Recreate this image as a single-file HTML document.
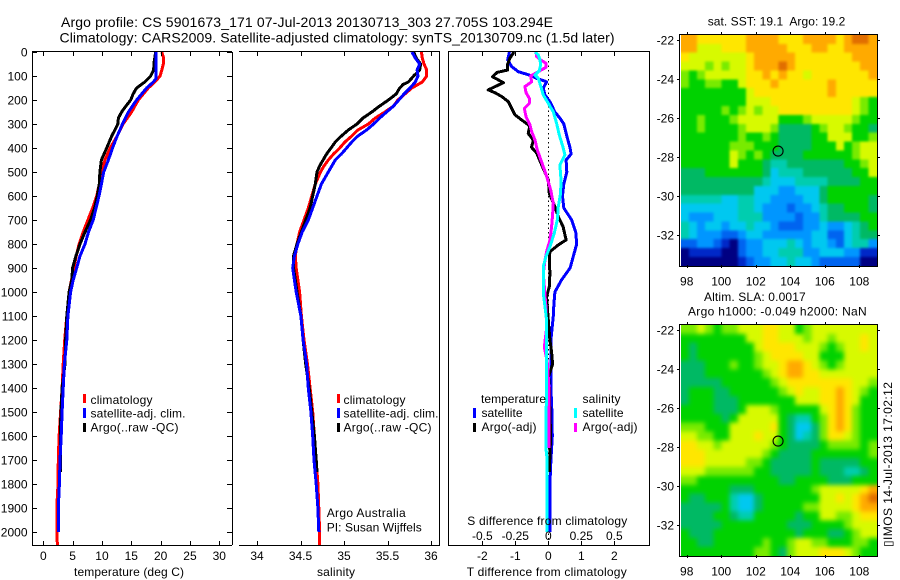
<!DOCTYPE html>
<html>
<head>
<meta charset="utf-8">
<title>Argo profile</title>
<style>
html,body{margin:0;padding:0;background:#fff;width:900px;height:580px;overflow:hidden}
svg{display:block}
text{font-family:"Liberation Sans",sans-serif;font-size:12px;fill:#000}
.title{font-size:14px}
.ln{stroke:#000;stroke-width:1;shape-rendering:crispEdges;fill:none}
</style>
</head>
<body>
<svg id="chart" xmlns="http://www.w3.org/2000/svg" width="900" height="580" viewBox="0 0 900 580">
<defs>
<clipPath id="sst-clip"><rect x="681" y="35" width="196" height="231"/></clipPath>
<clipPath id="sla-clip"><rect x="681" y="325" width="196" height="231"/></clipPath>
<filter id="blur-sst" x="-10%" y="-10%" width="120%" height="120%" color-interpolation-filters="sRGB"><feGaussianBlur stdDeviation="1.3"/></filter>
<filter id="blur-sla" x="-10%" y="-10%" width="120%" height="120%" color-interpolation-filters="sRGB"><feGaussianBlur stdDeviation="2.4"/></filter>
</defs>
<text class="title" x="61" y="27" textLength="492">Argo profile: CS 5901673_171 07-Jul-2013 20130713_303 27.705S 103.294E</text>
<text class="title" x="59.5" y="42.5" textLength="555">Climatology: CARS2009. Satellite-adjusted climatology: synTS_20130709.nc (1.5d later)</text>
<g id="maps">
<g clip-path="url(#sst-clip)"><g id="sst-cells" filter="url(#blur-sst)"></g></g>
<g clip-path="url(#sla-clip)"><g id="sla-cells" filter="url(#blur-sla)"></g></g>
</g>
<g id="profiles"></g>
<g id="axes"></g>
<line class="ln" x1="232.5" y1="52" x2="232.5" y2="545"/>
<line class="ln" x1="32.5" y1="52" x2="32.5" y2="545"/>
<line class="ln" x1="32" y1="51.5" x2="232" y2="51.5"/>
<line class="ln" x1="32" y1="545.5" x2="232" y2="545.5"/>
<line class="ln" x1="239" y1="51.5" x2="440" y2="51.5"/>
<line class="ln" x1="239" y1="545.5" x2="440" y2="545.5"/>
<line class="ln" x1="439.5" y1="52" x2="439.5" y2="545"/>
<rect class="ln" x="448.5" y="51.5" width="201" height="494"/>
<rect class="ln" x="679.5" y="34.5" width="198" height="232"/>
<rect class="ln" x="679.5" y="324.5" width="198" height="232"/>

<g>
<rect x="83" y="394" width="3" height="9" fill="#f00"/>
<rect x="83" y="408" width="3" height="10" fill="#00f"/>
<rect x="83" y="423" width="3" height="9" fill="#000"/>
<text x="90.5" y="404" textLength="62">climatology</text>
<text x="90.5" y="417.5" textLength="95">satellite-adj. clim.</text>
<text x="90.5" y="431.5" textLength="88">Argo(..raw -QC)</text>
</g>
<g>
<rect x="337" y="394" width="3" height="9" fill="#f00"/>
<rect x="337" y="408" width="3" height="10" fill="#00f"/>
<rect x="337" y="423" width="3" height="9" fill="#000"/>
<text x="343.5" y="404" textLength="62">climatology</text>
<text x="343.5" y="417.5" textLength="95">satellite-adj. clim.</text>
<text x="343.5" y="431.5" textLength="88">Argo(..raw -QC)</text>
</g>
<g>
<text x="481" y="403" textLength="65">temperature</text>
<text x="582.5" y="403" textLength="38">salinity</text>
<rect x="473" y="408" width="3" height="10" fill="#00f"/>
<rect x="473" y="423" width="3" height="9" fill="#000"/>
<rect x="574" y="408" width="3" height="10" fill="#0ff"/>
<rect x="574" y="423" width="3" height="9" fill="#f0f"/>
<text x="481.5" y="417" textLength="41">satellite</text>
<text x="481.5" y="431" textLength="55">Argo(-adj)</text>
<text x="582.5" y="417" textLength="41">satellite</text>
<text x="582.5" y="431" textLength="55">Argo(-adj)</text>
</g>
<text x="326.7" y="517" textLength="79">Argo Australia</text>
<text x="326.7" y="531.5" textLength="95">PI: Susan Wijffels</text>
<text x="467.3" y="525" textLength="160">S difference from climatology</text>
<text x="74" y="576" textLength="110">temperature (deg C)</text>
<text x="317" y="576" textLength="38">salinity</text>
<text x="466.7" y="576" textLength="160">T difference from climatology</text>
<text x="707.7" y="25.5" textLength="137.6" xml:space="preserve" style="white-space:pre">sat. SST: 19.1  Argo: 19.2</text>
<text x="704" y="301" textLength="101.7">Altim. SLA: 0.0017</text>
<text x="688" y="315.7" textLength="178.7">Argo h1000: -0.049 h2000: NaN</text>
<text transform="translate(892,547) rotate(-90)" textLength="165" style='font-family:"Liberation Sans","DejaVu Sans",sans-serif'>▯IMOS 14-Jul-2013 17:02:12</text>
</svg>
<script>
// ---- axis tick values ----
const depthTicks = [0,100,200,300,400,500,600,700,800,900,1000,1100,1200,1300,1400,1500,1600,1700,1800,1900,2000];
const tempTicks = [0,5,10,15,20,25,30];
const salTicks = [34,34.5,35,35.5,36];
const tDiffTicks = [-2,-1,0,1,2];
const sDiffTicks = [-0.5,-0.25,0,0.25,0.5];
const lonTicks = [98,100,102,104,106,108];
const latTicks = [-22,-24,-26,-28,-30,-32];

// ---- temperature panel ----
const tempClimDepth = [0,25,50,75,100,125,150,200,250,300,350,400,450,500,550,600,650,700,750,800,850,900,950,1000,1100,1200,1300,1400,1500,1600,1700,1800,1900,2000,2054];
const tempClimValues = [20.2,20.5,20.45,20.2,19.9,19.0,17.9,16.2,15.05,13.6,12.6,11.4,10.5,9.9,9.55,9.1,8.4,7.6,6.8,6.1,5.6,5.2,4.8,4.4,4.0,3.65,3.4,3.2,2.95,2.7,2.55,2.5,2.3,2.3,2.4];
const tempSatDepth = [0,100,110,125,150,200,250,300,350,400,450,500,550,600,650,700,750,800,850,900,950,1000,1100,1200,1300,1400,1500,1600,1700,1800,1900,2000];
const tempSatValues = [19.25,19.25,19.25,18.75,17.6,15.9,14.5,13.5,12.6,11.8,11.1,10.3,9.9,9.5,9.0,8.5,7.7,7.1,6.25,5.7,5.1,4.65,4.2,4.0,3.6,3.4,3.2,3.05,2.85,2.75,2.55,2.55];
const tempArgoDepth = [0,40,75,100,125,150,175,200,225,250,275,300,325,350,400,450,500,550,600,650,700,750,800,850,900,950,1000,1100,1200,1300,1400,1500,1600,1750];
const tempArgoValues = [19.15,18.9,18.8,18.3,17.3,15.9,15.3,14.9,14.1,13.35,12.8,12.7,12.2,11.65,10.8,9.9,9.65,9.55,9.2,8.75,8.05,7.1,6.25,5.55,5.0,4.85,4.4,4.0,3.8,3.7,3.2,3.0,2.9,2.9];

// ---- salinity panel ----
const salClimDepth = [0,25,50,75,100,125,150,175,200,225,250,275,300,325,350,375,400,425,450,475,500,550,600,650,700,750,800,850,900,950,1000,1100,1200,1300,1400,1500,1600,1700,1800,1900,2000,2054];
const salClimValues = [35.89,35.9,35.92,35.95,35.95,35.9,35.78,35.7,35.62,35.57,35.47,35.36,35.28,35.16,35.09,35.01,34.95,34.88,34.82,34.77,34.73,34.67,34.63,34.59,34.54,34.49,34.46,34.44,34.45,34.47,34.49,34.51,34.54,34.58,34.61,34.64,34.66,34.68,34.7,34.71,34.72,34.72];
const salSatDepth = [0,25,50,75,100,125,150,175,200,225,250,275,300,325,350,375,400,425,450,475,500,550,600,650,700,750,800,850,900,950,1000,1100,1200,1300,1400,1500,1600,1700,1800,1900,2000];
const salSatValues = [35.78,35.82,35.87,35.84,35.85,35.82,35.76,35.69,35.63,35.57,35.49,35.41,35.34,35.26,35.16,35.09,35.03,34.97,34.9,34.86,34.82,34.74,34.69,34.64,34.59,34.52,34.47,34.43,34.41,34.43,34.45,34.505,34.53,34.57,34.59,34.62,34.64,34.655,34.68,34.7,34.71];
const salArgoDepth = [0,25,50,75,100,125,135,150,175,200,225,250,275,300,325,350,375,400,425,450,475,500,550,600,650,700,750,800,850,900,950,1000,1100,1200,1300,1400,1500,1600,1700,1750];
const salArgoValues = [35.8,35.83,35.88,35.87,35.8,35.74,35.68,35.64,35.6,35.51,35.41,35.32,35.22,35.15,35.05,34.97,34.9,34.85,34.8,34.76,34.72,34.69,34.67,34.64,34.61,34.56,34.51,34.46,34.42,34.42,34.44,34.46,34.505,34.53,34.56,34.6,34.63,34.66,34.68,34.69];

// ---- difference panel ----
const tDiffSatDepth = [0,33,61,82,96,110,124,151,179,207,250,275,300,350,400,425,450,500,550,600,650,700,750,800,850,900,950,1000,1050,1100,1200,1300,1400,1500,1600,1700,1800,1900,2000];
const tDiffSatValues = [-1.18,-1.23,-1.11,-0.91,-0.58,-0.35,-0.05,-0.15,-0.10,0.05,0.2,0.35,0.47,0.56,0.66,0.69,0.54,0.56,0.47,0.43,0.47,0.71,0.83,0.86,0.76,0.66,0.40,0.2,0.17,0.15,0.08,0.08,0.08,0.11,0.12,0.08,0.05,0.05,0.05];
const tDiffArgoDepth = [0,25,50,75,85,103,128,158,169,186,207,235,262,283,308,339,367,397,422,471,533,589,644,686,728,783,804,832,867,922,978,1019,1061,1117,1200,1250,1300,1350,1400,1500,1600,1750];
const tDiffArgoValues = [-1.04,-1.16,-1.23,-1.23,-1.55,-1.69,-1.36,-1.82,-1.62,-1.41,-1.21,-1.11,-1.01,-0.81,-0.56,-0.61,-0.45,-0.51,-0.35,-0.2,0,0.03,0.2,0.3,0.45,0.54,0.3,0.05,0.03,0.05,0.03,-0.05,-0.03,0,0.05,0.1,0.13,0.01,0.03,0.05,0.07,0.03];
const sDiffArgoDepth = [0,19,31,47,64,82,100,124,144,169,193,214,235,269,304,332,367,408,450,485,526,575,631,672,728,783,832,867,922,1061,1150,1230,1290,1400,1650];
const sDiffArgoValues = [-0.093,-0.088,-0.063,-0.018,-0.018,-0.076,-0.134,-0.126,-0.177,-0.169,-0.144,-0.144,-0.182,-0.169,-0.139,-0.126,-0.101,-0.083,-0.056,-0.033,-0.008,0.018,0.038,0.033,0.025,0.013,-0.013,-0.025,-0.038,-0.018,-0.013,-0.03,-0.008,0.005,0.005];
const sDiffSatDepth = [0,12,33,54,78,96,110,144,179,214,249,297,346,401,429,471,533,589,644,700,756,811,853,894,1006,1061,1117,1200,1450,1500,1650,1700,2000];
const sDiffSatValues = [-0.101,-0.076,-0.063,-0.058,-0.068,-0.101,-0.076,-0.056,-0.038,0,0.038,0.063,0.083,0.114,0.126,0.088,0.096,0.093,0.076,0.068,0.045,0.013,-0.018,-0.038,-0.038,-0.025,-0.013,-0.013,-0.013,-0.018,-0.018,-0.008,-0.008];

// ---- map colour levels (row by row, north to south) ----
const sstLevels = [
[11,11,10,10,10,10,10,10,11,11,11,11,10,10,10,11,11,11,11,10,11,12,12,11],
[11,11,9,9,9,10,10,10,11,11,11,11,11,10,10,10,11,11,10,10,11,11,11,11],
[10,9,9,9,9,9,9,9,10,11,11,11,11,11,10,10,10,10,10,10,10,11,11,11],
[9,9,9,8,9,8,9,9,10,11,11,11,12,11,10,10,10,10,10,10,10,10,11,11],
[8,7,8,9,9,9,9,9,10,10,11,10,11,10,10,9,10,10,10,10,10,10,10,11],
[8,7,7,8,8,7,7,9,10,10,10,11,10,10,10,10,10,10,11,10,10,10,10,10],
[7,7,7,7,7,7,7,7,9,10,10,10,10,10,10,10,10,10,11,10,10,10,10,10],
[7,7,7,7,7,7,7,7,9,9,9,10,10,10,10,10,10,10,10,10,10,9,8,7],
[7,7,7,7,7,8,7,8,9,8,9,9,10,10,10,10,10,10,10,10,10,9,8,7],
[7,7,8,7,7,7,8,9,9,9,9,9,7,7,7,8,9,9,9,9,9,8,7,7],
[7,7,8,7,7,7,7,8,9,9,9,8,6,6,6,6,7,8,9,9,8,7,7,6],
[7,7,7,7,7,7,7,8,7,7,8,7,6,6,6,6,7,7,9,9,9,7,7,8],
[7,7,7,7,7,7,8,8,8,7,7,7,6,6,6,6,7,7,7,9,7,8,9,9],
[7,7,7,7,7,7,9,8,7,8,7,6,6,6,6,7,7,7,7,7,7,8,9,9],
[7,7,7,7,7,7,9,7,7,7,6,5,5,6,6,6,6,6,6,6,7,7,8,9],
[6,6,6,7,7,7,7,7,7,7,6,4,5,5,5,6,6,6,6,6,6,7,7,9],
[6,6,6,6,6,6,6,6,6,6,5,4,4,4,5,5,5,5,6,6,6,6,7,7],
[6,6,6,6,6,6,6,6,6,4,4,4,3,3,4,4,4,6,7,7,7,7,7,7],
[5,5,5,5,5,4,4,5,5,4,4,3,3,3,3,4,4,6,7,7,7,7,7,6],
[4,4,4,4,4,4,4,5,5,4,3,3,3,2,3,3,4,5,6,6,7,7,7,6],
[4,3,3,3,4,4,4,5,5,5,3,3,3,3,2,3,3,5,6,6,6,6,7,7],
[5,4,3,4,4,3,4,4,5,4,4,3,2,2,2,3,3,4,3,3,4,5,6,7],
[5,4,3,3,3,2,2,3,4,4,3,3,3,3,3,3,4,4,2,2,4,5,6,6],
[2,2,3,3,2,1,0,2,3,3,4,4,4,5,4,3,4,4,3,2,4,5,5,3],
[0,1,1,1,1,0,0,2,3,3,4,4,5,5,5,3,3,4,4,4,3,3,1,1],
[0,0,0,0,0,0,0,1,2,3,3,4,4,5,4,4,3,2,2,2,2,2,0,0]
];
const slaLevels = [
[8,8,9,8,7,8,8,9,9,9,10,10,9,9,7,8,9,9,9,9,9,9,9,9],
[7,7,7,7,7,7,7,7,9,9,10,10,9,9,9,8,9,9,8,9,9,9,10,9],
[7,6,7,7,7,7,7,7,7,9,10,10,10,10,9,9,9,8,7,8,9,9,10,9],
[7,6,7,7,7,7,7,7,7,8,9,10,10,10,10,9,9,7,7,7,9,9,9,9],
[6,6,6,7,7,7,8,7,7,8,9,9,10,11,11,10,9,8,7,8,9,9,9,9],
[6,6,6,7,7,7,7,7,7,7,8,9,10,11,11,10,10,9,9,9,9,9,9,9],
[6,6,6,6,6,7,7,7,7,7,7,8,9,10,10,10,10,10,10,10,10,9,9,8],
[6,7,7,7,6,6,7,7,7,7,7,7,8,9,10,9,9,10,10,11,10,9,8,7],
[6,7,7,7,6,6,6,7,7,7,7,7,7,7,9,9,9,10,10,11,10,9,7,7],
[7,7,7,7,6,6,6,7,9,9,9,8,7,7,7,7,7,9,10,11,10,8,7,7],
[7,7,7,7,7,6,7,9,9,9,9,9,7,6,5,5,7,8,10,11,10,8,7,7],
[8,8,8,7,7,7,9,9,9,9,9,10,7,6,4,4,6,8,10,11,10,8,7,7],
[9,9,8,8,7,7,9,9,9,10,9,9,7,6,4,5,6,8,10,10,9,8,7,7],
[10,10,9,9,8,9,9,9,9,9,9,8,7,6,6,6,6,7,8,8,8,8,7,8],
[10,10,10,9,9,9,9,9,9,9,8,7,6,6,6,6,7,7,7,7,7,7,7,8],
[10,10,10,9,9,9,9,9,8,8,7,6,6,6,6,6,7,6,6,6,6,6,7,7],
[9,9,9,8,8,8,8,8,8,7,7,6,6,6,6,6,7,6,6,6,5,5,6,7],
[8,8,7,7,7,7,7,7,7,7,7,7,6,6,7,7,7,7,6,6,6,7,7,7],
[7,7,7,7,7,7,6,6,6,7,7,7,7,7,7,7,8,9,9,9,9,9,10,11],
[7,6,6,7,7,7,5,4,4,6,7,7,7,7,7,7,7,9,9,10,9,10,11,12],
[6,6,6,6,6,7,5,4,4,6,7,7,7,7,7,8,8,9,9,9,9,10,11,11],
[6,6,6,6,7,7,6,5,5,7,7,7,7,7,6,7,7,9,9,8,8,9,10,10],
[6,6,6,6,6,7,7,7,7,7,7,7,7,6,6,6,7,7,7,7,8,9,9,9],
[7,6,6,6,7,7,7,7,7,7,7,7,7,7,6,7,7,7,6,6,7,8,9,9],
[7,7,6,6,7,7,7,7,7,7,8,7,7,8,9,9,8,8,7,7,7,8,8,7],
[7,7,7,7,7,7,7,7,7,8,8,7,6,8,9,9,9,10,10,10,9,8,7,7]
];
const floatLon = [103.294];
const floatLat = [-27.705];

const NS = 'http://www.w3.org/2000/svg';
const mapsLayer = document.getElementById('maps');
const profilesLayer = document.getElementById('profiles');
const axesLayer = document.getElementById('axes');

function depthY(d){ return 52 + 0.24*d; }
function tempX(t){ return 43.3 + 5.867*t; }
function salX(s){ return 257 + 87*(s-34); }
function tDiffX(t){ return 548.3 + 33*t; }
function sDiffX(s){ return 548.3 + 132*s; }
function lonX(lon){ return 686.7 + 17.26*(lon-98); }
function latY(lat, top){ return top + 6 + 19.47*(-22-lat); }

function palette(level){
  const colors = ['#000082','#0028c8','#0064f0','#0096ff','#00c8f0','#00cdaf','#00b964','#00d200','#78eb00','#d7fa00','#ffe600','#ffaa00','#e16e00'];
  return colors[Math.max(0,Math.min(colors.length-1,Math.round(level)))];
}

function addText(parent,x,y,str,anchor,name){
  const t = document.createElementNS(NS,'text');
  t.setAttribute('x',x);
  t.setAttribute('y',y);
  t.setAttribute('text-anchor',anchor);
  t.textContent = str;
  
  
  parent.appendChild(t);
}
function addTick(parent,x1,y1,x2,y2){
  const l = document.createElementNS(NS,'line');
  l.setAttribute('x1',x1);
  l.setAttribute('y1',y1);
  l.setAttribute('x2',x2);
  l.setAttribute('y2',y2);
  l.setAttribute('class','ln');
  
  
  parent.appendChild(l);
}
function px(v){ return Math.round(v)+0.5; }
function drawProfile(depths,values,xFn,color,width,name){
  const pts = depths.map(function(d,i){ return xFn(values[i]).toFixed(1)+','+depthY(d).toFixed(1); }).join(' ');
  const p = document.createElementNS(NS,'polyline');
  p.setAttribute('points',pts);
  p.setAttribute('fill','none');
  p.setAttribute('stroke',color);
  p.setAttribute('stroke-width',width);
  p.setAttribute('stroke-linejoin','round');
  p.setAttribute('shape-rendering','crispEdges');
  
  
  profilesLayer.appendChild(p);
}
function drawMap(levels,top,name,parent){
  const lonStart = 97.65, latStart = -21.74;
  const lonStep = 11.35/levels[0].length, latStep = 11.86/levels.length;
  levels.forEach(function(row,r){
    row.forEach(function(v,c){
      let x0 = lonX(lonStart+c*lonStep), x1 = lonX(lonStart+(c+1)*lonStep);
      let y0 = latY(latStart-r*latStep,top), y1 = latY(latStart-(r+1)*latStep,top);
      if(c===0){ x0 -= 12; }
      if(c===row.length-1){ x1 += 12; }
      if(r===0){ y0 -= 12; }
      if(r===levels.length-1){ y1 += 12; }
      const cell = document.createElementNS(NS,'rect');
      cell.setAttribute('x',x0.toFixed(2));
      cell.setAttribute('y',y0.toFixed(2));
      cell.setAttribute('width',(x1-x0+0.4).toFixed(2));
      cell.setAttribute('height',(y1-y0+0.4).toFixed(2));
      cell.setAttribute('fill',palette(v));
      cell.setAttribute('shape-rendering','crispEdges');
      
      
      parent.appendChild(cell);
    });
  });
}
function drawMapAxes(top,bottom){
  lonTicks.forEach(function(lon){
    const x = px(lonX(lon));
    addTick(axesLayer,x,top-2,x,top+1);
    addTick(axesLayer,x,bottom-2,x,bottom+1);
    addText(axesLayer,lonX(lon),bottom+18.5,String(lon),'middle','longitude-tick-label');
  });
  latTicks.forEach(function(lat){
    const y = px(latY(lat,top));
    addTick(axesLayer,677,y,680,y);
    addTick(axesLayer,877,y,880,y);
    addText(axesLayer,674,y+4,String(lat),'end','latitude-tick-label');
  });
}
function drawMarker(top){
  const c = document.createElementNS(NS,'circle');
  c.setAttribute('cx',lonX(floatLon[0]));
  c.setAttribute('cy',latY(floatLat[0],top));
  c.setAttribute('r',5);
  c.setAttribute('fill','none');
  c.setAttribute('stroke','#000');
  c.setAttribute('stroke-width',1.1);
  
  
  mapsLayer.appendChild(c);
}

// maps
drawMap(sstLevels,34,'sst-cell',document.getElementById('sst-cells'));
drawMap(slaLevels,324,'sla-cell',document.getElementById('sla-cells'));
drawMarker(34);
drawMarker(324);
drawMapAxes(34,267);
drawMapAxes(324,557);

// temperature profiles
drawProfile(tempClimDepth,tempClimValues,tempX,'#f00',3,'temperature-climatology-line');
drawProfile(tempArgoDepth,tempArgoValues,tempX,'#000',3,'temperature-argo-line');
drawProfile(tempSatDepth,tempSatValues,tempX,'#00f',3,'temperature-satellite-line');

// salinity profiles
drawProfile(salClimDepth,salClimValues,salX,'#f00',3,'salinity-climatology-line');
drawProfile(salArgoDepth,salArgoValues,salX,'#000',3,'salinity-argo-line');
drawProfile(salSatDepth,salSatValues,salX,'#00f',3,'salinity-satellite-line');

// difference profiles
const zeroLine = document.createElementNS(NS,'line');
zeroLine.setAttribute('x1',548.5);
zeroLine.setAttribute('y1',52);
zeroLine.setAttribute('x2',548.5);
zeroLine.setAttribute('y2',545);
zeroLine.setAttribute('stroke','#000');
zeroLine.setAttribute('stroke-width',1);
zeroLine.setAttribute('stroke-dasharray','1.5 3');


profilesLayer.appendChild(zeroLine);
drawProfile(tDiffSatDepth,tDiffSatValues,tDiffX,'#00f',3,'t-difference-satellite-line');
drawProfile(tDiffArgoDepth,tDiffArgoValues,tDiffX,'#000',3,'t-difference-argo-line');
drawProfile(sDiffArgoDepth,sDiffArgoValues,sDiffX,'#f0f',3,'s-difference-argo-line');
drawProfile(sDiffSatDepth,sDiffSatValues,sDiffX,'#0ff',3,'s-difference-satellite-line');

// profile axes
depthTicks.forEach(function(d){
  const y = px(depthY(d));
  addTick(axesLayer,32,y,37,y);
  addTick(axesLayer,227,y,232,y);
  addText(axesLayer,27.5,depthY(d)+4.5,String(d),'end','depth-tick-label');
});
tempTicks.forEach(function(t){
  const x = px(tempX(t));
  addTick(axesLayer,x,52,x,56);
  addTick(axesLayer,x,541,x,545);
  addText(axesLayer,tempX(t),560,String(t),'middle','temperature-tick-label');
});
salTicks.forEach(function(s){
  const x = px(salX(s));
  addTick(axesLayer,x,52,x,56);
  addTick(axesLayer,x,541,x,545);
  addText(axesLayer,salX(s),560,String(s),'middle','salinity-tick-label');
});
tDiffTicks.forEach(function(t){
  const x = px(tDiffX(t));
  addTick(axesLayer,x,52,x,56);
  addTick(axesLayer,x,541,x,545);
  addText(axesLayer,tDiffX(t),560,String(t),'middle','t-difference-tick-label');
});
sDiffTicks.forEach(function(s){
  addText(axesLayer,sDiffX(s),540,String(s),'middle','s-difference-tick-label');
});
</script>
</body>
</html>
